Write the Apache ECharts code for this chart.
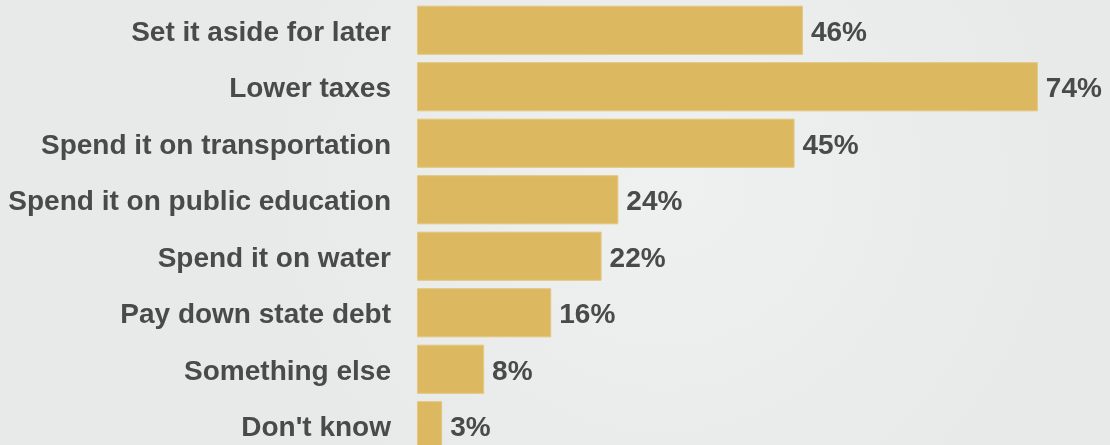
<!DOCTYPE html>
<html>
<head>
<meta charset="utf-8">
<script src="https://cdn.jsdelivr.net/npm/echarts@6/dist/echarts.min.js"></script>
<style>
html,body{margin:0;padding:0;background:#ebecec;}
#c{width:1110px;height:445px;}
</style>
</head>
<body>
<div id="c"></div>
<script>
const categories = [
  "Set it aside for later",
  "Lower taxes",
  "Spend it on transportation",
  "Spend it on public education",
  "Spend it on water",
  "Pay down state debt",
  "Something else",
  "Don't know"
];
const values = [46, 74, 45, 24, 22, 16, 8, 3];

const textStyle = {
  color: '#4a4a4a', fontSize: 28, fontWeight: 'bold',
  fontFamily: 'Liberation Sans, Arial, sans-serif'
};

const chart = echarts.init(document.getElementById('c'), null, {renderer: 'canvas'});
chart.setOption({
  backgroundColor: {
    type: 'radial', x: 0.6, y: 0.4, r: 0.9,
    colorStops: [{offset: 0, color: '#eff0f0'}, {offset: 1, color: '#e8e9e9'}]
  },
  animation: false,
  grid: {left: 417, top: 2, width: 839, height: 452, containLabel: false, outerBoundsMode: 'none'},
  xAxis: {
    type: 'value', min: 0, max: 100, show: false
  },
  yAxis: {
    type: 'category', data: categories, inverse: true,
    axisLine: {show: false}, axisTick: {show: false}, splitLine: {show: false},
    axisLabel: Object.assign({
      margin: 26,
      formatter: v => '{a|' + v + '}',
      rich: {a: Object.assign({padding: [6, 0, 0, 0]}, textStyle)}
    }, textStyle)
  },
  series: [{
    type: 'bar', data: values, barCategoryGap: '13%',
    itemStyle: {color: '#dcb961', borderColor: '#e3c77e', borderWidth: 1},
    label: Object.assign({
      show: true, position: 'right', distance: 8, formatter: '{c}%',
      offset: [0, 3]
    }, textStyle)
  }]
});
</script>
</body>
</html>
